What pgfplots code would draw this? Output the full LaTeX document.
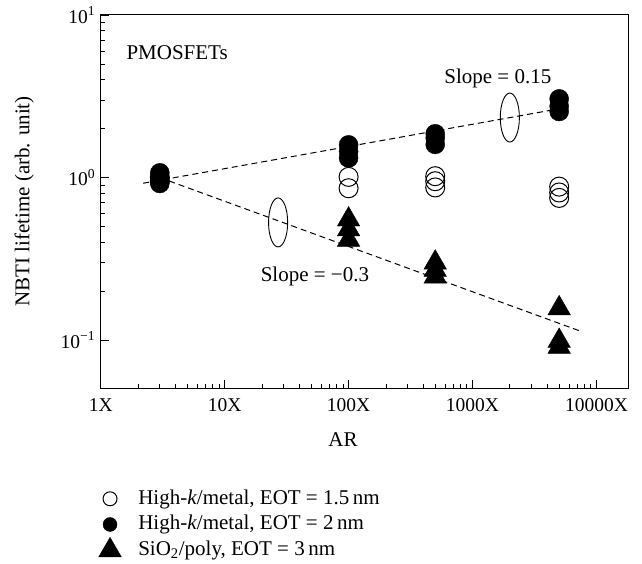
\documentclass[border=0pt]{standalone}
\usepackage{fontspec}
\setmainfont{Liberation Serif}
\usepackage{pgfplots}
\usepackage{pgfplotstable}
\pgfplotsset{compat=1.18}
\newcommand\fA{\fontsize{21bp}{25bp}\selectfont}
\newcommand\fT{\fontsize{19.5bp}{23bp}\selectfont}
\pgfplotstableread{
x y
3 1.0
3 0.95
100 1.01
100 0.86
500 1.02
500 0.95
500 0.87
5000 0.88
5000 0.81
5000 0.75
}\openpts
\pgfplotstableread{
x y
3 1.07
3 1.0
3 0.92
100 1.59
100 1.45
100 1.32
500 1.86
500 1.75
500 1.6
5000 3.05
5000 2.75
5000 2.55
}\fillpts
\pgfplotstableread{
x y
100 0.552
100 0.48
100 0.414
500 0.30
500 0.27
500 0.246
5000 0.157
5000 0.099
5000 0.091
}\tripts
\begin{document}
\begin{tikzpicture}
\path[use as bounding box] (-100.7bp,-176bp) rectangle (541.3bp,388bp);
\begin{axis}[
  at={(0,0)}, anchor=south west,
  xmode=log, ymode=log,
  width=528bp, height=373bp, scale only axis,
  xmin=1, xmax=18200, ymin=0.0508, ymax=10,
  xtick={1,10,100,1000,10000},
  xticklabels={1X,10X,100X,1000X,10000X},
  ytick={0.1,1,10},
  yticklabels={10\textsuperscript{−1},10\textsuperscript{0},10\textsuperscript{1}},
  xtick pos=bottom, ytick pos=left,
  tick align=inside,
  major tick length=8bp, minor tick length=4bp,
  axis line style={line width=1bp},
  every tick/.style={black, line width=0.8bp},
  ticklabel style={font=\fT},
  xticklabel style={yshift=-7bp},
  yticklabel style={xshift=-2bp},
  xlabel={AR},
  xlabel style={at={(axis description cs:0.459,-0.138)}, anchor=center, font=\fA, inner sep=0pt},
  ylabel={NBTI lifetime (arb. unit)},
  ylabel style={at={(axis description cs:-0.145,0.5)}, anchor=center, font=\fA, inner sep=0pt},
  legend style={at={(axis description cs:-0.004,-0.262)}, anchor=north west,
    draw=none, fill=none, font=\fA, inner sep=0pt,
    nodes={inner xsep=2bp, inner ysep=2.6bp, text height=15.5bp, text depth=5bp},
    /tikz/every odd column/.append style={column sep=15bp}},
  legend cell align=left,
]
\addplot[only marks, mark=o, mark size=9.5bp, mark options={line width=1bp, draw=black}, forget plot] table {\openpts};
\addplot[only marks, mark=*, mark size=9.5bp, mark options={draw=black, fill=black}, forget plot] table {\fillpts};
\addplot[only marks, mark=triangle*, mark size=13bp, mark options={draw=black, fill=black}, forget plot] table {\tripts};
\addplot[only marks, mark=o, mark size=24.5bp, mark options={xscale=0.39, line width=0.9bp, draw=black}, forget plot] coordinates {(27,0.53) (2000,2.34)};
\addplot[black, line width=1bp, dash pattern=on 6bp off 4bp, forget plot] coordinates {(2.2,0.923) (5000,2.65)};
\addplot[black, line width=1bp, dash pattern=on 6bp off 4bp, forget plot] coordinates {(3,1.0) (7700,0.1125)};
\addlegendimage{only marks, mark=o, mark size=7bp, mark options={line width=1bp, draw=black}}
\addlegendentry{High-\textit{k}/metal, EOT = 1.5\,nm}
\addlegendimage{only marks, mark=*, mark size=7bp, mark options={draw=black, fill=black}}
\addlegendentry{High-\textit{k}/metal, EOT = 2\,nm}
\addlegendimage{only marks, mark=triangle*, mark size=13bp, mark options={draw=black, fill=black}}
\addlegendentry{SiO\textsubscript{2}/poly, EOT = 3\,nm}
\node[font=\fA, inner sep=0pt, anchor=west] at (axis cs:1.61,5.85) {PMOSFETs};
\node[font=\fA, inner sep=0pt, anchor=base] at (axis cs:1600,3.77) {Slope = 0.15};
\node[font=\fA, inner sep=0pt, anchor=base] at (axis cs:53.5,0.229) {Slope = −0.3};
\end{axis}
\end{tikzpicture}
\end{document}
